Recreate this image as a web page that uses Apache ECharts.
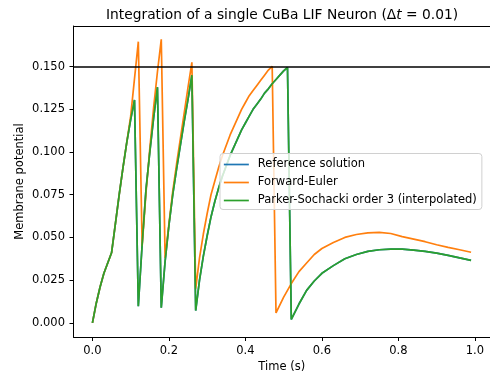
<!DOCTYPE html>
<html>
<head>
<meta charset="utf-8">
<script src="https://cdn.jsdelivr.net/npm/echarts@6/dist/echarts.min.js"></script>
<style>
  html, body { margin: 0; padding: 0; background: #fff; }
  #chart { width: 490px; height: 379px; }
</style>
</head>
<body>
<div id="chart"></div>
<script>
// Forward-Euler trace (time in s, membrane potential)
const eulerTime = [
  0, 0.01, 0.02, 0.03, 0.04, 0.05, 0.06, 0.07, 0.08, 0.09,
  0.10, 0.11, 0.12, 0.13, 0.14, 0.15, 0.16, 0.17, 0.18, 0.19,
  0.20, 0.21, 0.22, 0.23, 0.24, 0.25, 0.26, 0.27, 0.28, 0.29,
  0.30, 0.31, 0.32, 0.33, 0.34, 0.35, 0.36, 0.37, 0.38, 0.39,
  0.40, 0.41, 0.42, 0.43, 0.44, 0.45, 0.46, 0.47, 0.48, 0.50,
  0.52, 0.54, 0.56, 0.58, 0.60, 0.63, 0.66, 0.69, 0.72, 0.75,
  0.78, 0.81, 0.84, 0.87, 0.90, 0.93, 0.96, 0.99
]
const eulerV = [
  0, 0.0115, 0.021, 0.029, 0.035, 0.041, 0.058, 0.075, 0.091, 0.106,
  0.121, 0.143, 0.1646, 0.045, 0.076, 0.102, 0.126, 0.147, 0.166, 0.038,
  0.058, 0.077, 0.093, 0.108, 0.123, 0.138, 0.1525, 0.020, 0.038, 0.052,
  0.064, 0.075, 0.083, 0.091, 0.098, 0.104, 0.110, 0.115, 0.120, 0.125,
  0.129, 0.133, 0.136, 0.139, 0.142, 0.145, 0.148, 0.1502, 0.0058, 0.015,
  0.023, 0.030, 0.035, 0.040, 0.0435, 0.047, 0.050, 0.0517, 0.0527, 0.053,
  0.0523, 0.0505, 0.049, 0.0475, 0.0457, 0.0442, 0.0428, 0.0413
]

// Parker-Sochacki order 3 (interpolated) trace
const psTime = [
  0, 0.01, 0.02, 0.03, 0.04, 0.05, 0.06, 0.07, 0.08, 0.09,
  0.10, 0.11, 0.12, 0.13, 0.14, 0.15, 0.16, 0.17, 0.18, 0.19,
  0.20, 0.21, 0.22, 0.23, 0.24, 0.25, 0.26, 0.27, 0.28, 0.29,
  0.30, 0.31, 0.32, 0.33, 0.34, 0.35, 0.36, 0.37, 0.38, 0.39,
  0.40, 0.41, 0.42, 0.43, 0.44, 0.45, 0.46, 0.47, 0.48, 0.49,
  0.50, 0.51, 0.52, 0.54, 0.56, 0.58, 0.60, 0.63, 0.66, 0.69,
  0.72, 0.75, 0.78, 0.81, 0.84, 0.87, 0.90, 0.93, 0.96, 0.99
]
const psV = [
  0, 0.0115, 0.021, 0.029, 0.035, 0.041, 0.058, 0.075, 0.091, 0.106,
  0.119, 0.1305, 0.0097, 0.046, 0.078, 0.100, 0.120, 0.138, 0.0088, 0.036,
  0.057, 0.075, 0.090, 0.104, 0.118, 0.131, 0.145, 0.0072, 0.025, 0.039,
  0.051, 0.062, 0.071, 0.079, 0.086, 0.092, 0.098, 0.103, 0.108, 0.113,
  0.117, 0.121, 0.125, 0.128, 0.131, 0.1345, 0.137, 0.140, 0.1425, 0.145,
  0.1475, 0.1495, 0.002, 0.011, 0.019, 0.0245, 0.029, 0.0335, 0.0375, 0.040,
  0.0418, 0.0428, 0.0432, 0.0431, 0.0426, 0.0418, 0.0408, 0.0395, 0.038, 0.0366
]

// the reference solution is drawn underneath the PS curve and coincides with it
const refTime = psTime
const refV = psV

const threshold = 0.15
const xTicks = [0, 0.2, 0.4, 0.6, 0.8, 1.0]
const yTicks = [0, 0.025, 0.05, 0.075, 0.1, 0.125, 0.15]

const names = ['Reference solution', 'Forward-Euler', 'Parker-Sochacki order 3 (interpolated)']
const colors = ['#1f77b4', '#ff7f0e', '#2ca02c']

const pairs = (ts, vs) => ts.map((t, i) => [t, vs[i]])

const font = 'DejaVu Sans'
const lw = 1.7
const xMin = -0.0495
const xMax = 1.0395
const chart = echarts.init(document.getElementById('chart'))

chart.setOption({
  animation: false,
  textStyle: { fontFamily: font },
  title: {
    text: 'Integration of a single CuBa LIF Neuron ({d|Δ}{i|t}{d| = 0.01})',
    left: 101,
    top: 3,
    textStyle: {
      fontFamily: font, fontSize: 13.8, fontWeight: 'normal', color: '#000',
      rich: {
        d: { fontFamily: font, fontSize: 13.8, color: '#000' },
        i: { fontFamily: font, fontSize: 13.8, fontStyle: 'italic', color: '#000' }
      }
    }
  },
  grid: {
    left: 73.5, right: -1.5, top: 26, bottom: 42,
    show: false
  },
  legend: {
    orient: 'vertical',
    left: 220, top: 153.5,
    padding: [5, 5, 3, 3],
    itemWidth: 25, itemHeight: 12, itemGap: 6,
    itemStyle: { opacity: 0 },
    lineStyle: { width: lw },
    backgroundColor: 'rgba(255,255,255,0.8)',
    borderColor: '#d0d0d0', borderWidth: 1, borderRadius: 3,
    textStyle: { fontFamily: font, fontSize: 11.5, lineHeight: 12, color: '#000', padding: [0, 0, 0, 4] },
    data: names
  },
  xAxis: [{
    type: 'value',
    min: xMin, max: xMax,
    name: 'Time (s)',
    nameLocation: 'middle',
    nameGap: 24,
    nameMoveOverlap: false,
    nameTextStyle: { fontFamily: font, fontSize: 11.5, color: '#000' },
    axisLine: { show: true, onZero: false, lineStyle: { color: '#000', width: 1 } },
    axisTick: { show: true, customValues: xTicks, length: 4, lineStyle: { color: '#000' } },
    axisLabel: {
      customValues: xTicks, margin: 8, fontFamily: font, fontSize: 11.5, color: '#000',
      formatter: v => v.toFixed(1)
    },
    splitLine: { show: false }
  }, {
    // top spine only
    type: 'value', position: 'top',
    min: xMin, max: xMax,
    axisLine: { show: true, onZero: false, lineStyle: { color: '#000', width: 1 } },
    axisTick: { show: false },
    axisLabel: { show: false },
    splitLine: { show: false }
  }],
  yAxis: {
    type: 'value',
    min: -0.0083, max: 0.1738,
    name: 'Membrane potential',
    nameLocation: 'middle',
    nameGap: 47,
    nameMoveOverlap: false,
    nameTextStyle: { fontFamily: font, fontSize: 11.5, color: '#000' },
    axisLine: { show: true, onZero: false, lineStyle: { color: '#000', width: 1 } },
    axisTick: { show: true, customValues: yTicks, length: 4, lineStyle: { color: '#000' } },
    axisLabel: {
      customValues: yTicks, margin: 8.5, fontFamily: font, fontSize: 11.5, color: '#000',
      formatter: v => v.toFixed(3)
    },
    splitLine: { show: false }
  },
  series: [
    {
      name: names[0], type: 'line', data: pairs(refTime, refV),
      symbol: 'none', color: colors[0], lineStyle: { width: lw }
    },
    {
      name: names[1], type: 'line', data: pairs(eulerTime, eulerV),
      symbol: 'none', color: colors[1], lineStyle: { width: lw }
    },
    {
      name: names[2], type: 'line', data: pairs(psTime, psV),
      symbol: 'none', color: colors[2], lineStyle: { width: lw },
      markLine: {
        silent: true,
        symbol: ['none', 'none'],
        label: { show: false },
        lineStyle: { type: 'solid', color: '#000', width: lw },
        emphasis: { disabled: true },
        data: [{ yAxis: threshold }]
      }
    }
  ]
})
</script>
</body>
</html>
